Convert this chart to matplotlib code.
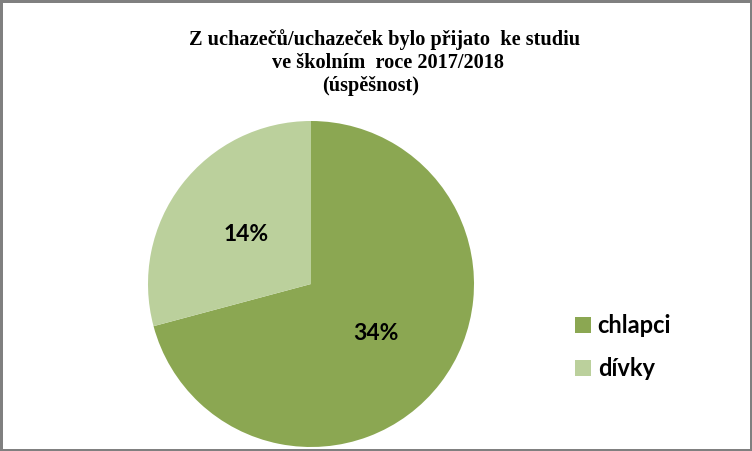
import matplotlib.pyplot as plt

labels = ["chlapci", "dívky"]
values = [34, 14]
colors = ["#8BA752", "#BBD09C"]
title_lines = ["Z uchazečů/uchazeček bylo přijato  ke studiu",
               "ve školním  roce 2017/2018",
               "(úspěšnost)"]

W, H = 752, 451
fig = plt.figure(figsize=(W / 100, H / 100), dpi=100)
fig.patch.set_facecolor("white")
fig.patch.set_edgecolor("#808080")
fig.patch.set_linewidth(3.5)

# pie: centre (311, 284) px, radius 163 px
cx, cy, r = 311, 284, 163
ax = fig.add_axes([(cx - r) / W, (H - cy - r) / H, 2 * r / W, 2 * r / H])
total = sum(values)
wedges, texts, autotexts = ax.pie(
    values, colors=colors, startangle=90, counterclock=False,
    autopct=lambda p: f"{p * total / 100:.0f}%", pctdistance=0.5,
    textprops=dict(fontsize=16.5, fontweight="bold", family="Lato", color="black"),
    wedgeprops=dict(linewidth=0))
ax.set_xlim(-1, 1)
ax.set_ylim(-1, 1)
ax.set_aspect("equal")

# title, each line centred on its own
for txt, x, y in zip(title_lines, [385, 388, 371], [40, 63, 86]):
    fig.text(x / W, 1 - y / H, txt, ha="center", va="center",
             family="Liberation Serif", fontweight="bold", fontsize=14.6)

fig.legend(wedges, labels, loc="upper left", bbox_to_anchor=(554 / W, 1 - 293 / H),
           frameon=False, handlelength=0.65, handleheight=0.65, handletextpad=0.3,
           labelspacing=0.85, prop=dict(family="Lato", weight="bold", size=17))

fig.savefig("out.png", dpi=100)
